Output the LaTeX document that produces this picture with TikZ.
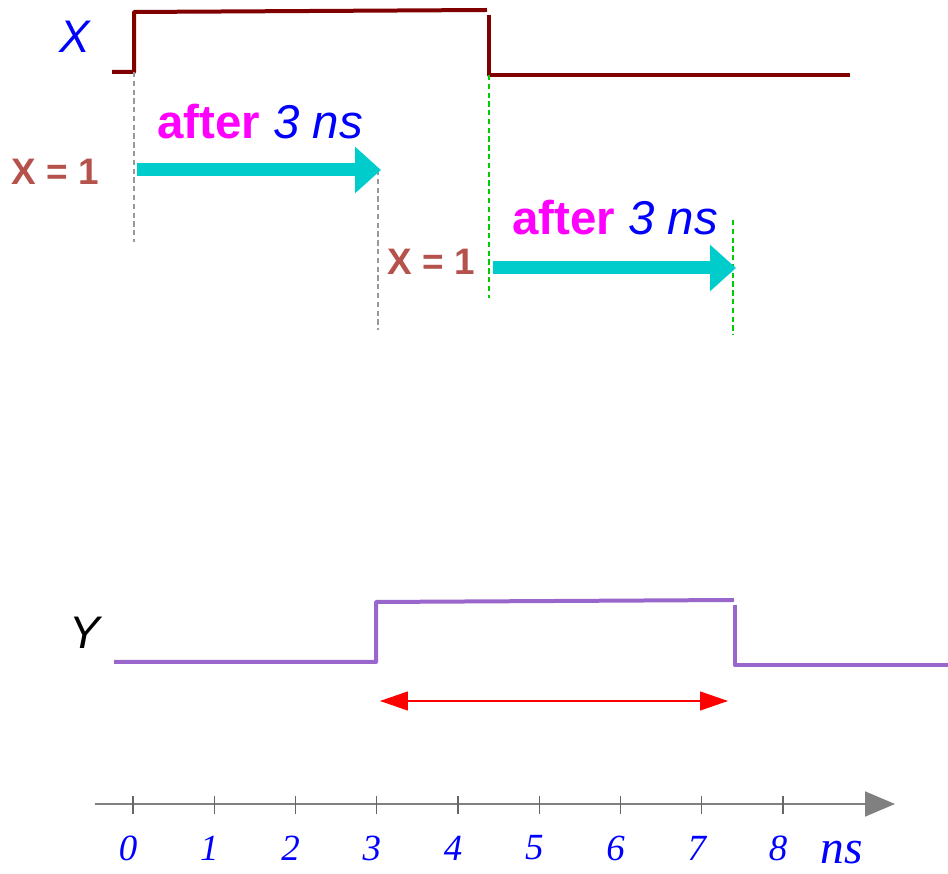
\documentclass[tikz,border=0pt]{standalone}
\usepackage{fontspec}
\setmainfont{Liberation Sans}
\newfontfamily\axisfont{Liberation Serif}
\usetikzlibrary{arrows.meta, positioning}

\definecolor{xwave}{RGB}{128,0,0}
\definecolor{ywave}{RGB}{153,102,204}
\definecolor{delayc}{RGB}{0,204,204}
\definecolor{eqc}{RGB}{181,82,76}
\definecolor{afterc}{RGB}{255,0,255}

\begin{document}
\begin{tikzpicture}[
    x=0.02cm, y=-0.02cm,
    xsignal/.style={draw=xwave, line width=0.08cm, line join=round},
    ysignal/.style={draw=ywave, line width=0.08cm, line join=round},
    guide/.style={densely dashed, line width=0.6pt, draw=gray!80},
    guidegreen/.style={densely dashed, line width=0.6pt, draw=green!80!black},
    delay/.style={draw=delayc, line width=0.26cm, -{Triangle[length=0.52cm, width=0.9cm]}},
    span/.style={draw=red, line width=0.6pt, {Triangle[length=0.56cm, width=0.38cm]}-{Triangle[length=0.56cm, width=0.38cm]}},
    axisline/.style={draw=gray, line width=1pt, -{Triangle[length=0.6cm, width=0.5cm]}},
    tickmark/.style={draw=gray!80!black, line width=0.6pt},
    sig_label/.style={font=\fontsize{26}{28}\selectfont\itshape},
    eq_label/.style={font=\fontsize{21}{23}\selectfont\bfseries, text=eqc},
    after_label/.style={font=\fontsize{27}{29}\selectfont},
    tick_label/.style={font=\fontsize{21}{23}\selectfont\axisfont\itshape, text=blue}
]
    \useasboundingbox (0,0) rectangle (948,874);

    % --- X WAVEFORM ---
    \coordinate (x0) at (112,72);
    \coordinate (xup) at (134,72);
    \coordinate (xtop) at (134,12);
    \coordinate (xtopend) at (487,10);
    \coordinate (xfall) at (489,15);
    \coordinate (xlow) at (489,75);
    \coordinate (xend) at (850,75);
    \draw[xsignal] (x0) -- (xup) -- (xtop) -- (xtopend);
    \draw[xsignal] (xfall) -- (xlow) -- (xend);
    \node[sig_label, text=blue] (xname) at (75,37) {X};

    % --- Guides ---
    \coordinate (g1b) at (134,242);
    \coordinate (g2a) at (378,170);
    \coordinate (g2b) at (378,330);
    \coordinate (g3b) at (489,298);
    \coordinate (g4a) at (733,220);
    \coordinate (g4b) at (733,335);
    \draw[guide] (xup) -- (g1b);
    \draw[guide] (g2a) -- (g2b);
    \draw[guidegreen] (xlow) -- (g3b);
    \draw[guidegreen] (g4a) -- (g4b);

    % --- Delays ---
    \coordinate (d1a) at (137,170);
    \coordinate (d1b) at (381,170);
    \coordinate (d2a) at (493,268);
    \coordinate (d2b) at (736,268);
    \draw[delay] (d1a) -- (d1b);
    \draw[delay] (d2a) -- (d2b);

    \node[eq_label] (eq1) at (55,172) {X = 1};
    \node[eq_label] (eq2) at (431,262) {X = 1};
    \node[after_label] (after1) at (260,122) {\textcolor{afterc}{\bfseries after} \textcolor{blue}{\itshape 3 ns}};
    \node[after_label] (after2) at (615,218) {\textcolor{afterc}{\bfseries after} \textcolor{blue}{\itshape 3 ns}};

    % --- Y WAVEFORM ---
    \coordinate (y0) at (114,662);
    \coordinate (yup) at (376,662);
    \coordinate (ytop) at (376,602);
    \coordinate (ytopend) at (734,600);
    \coordinate (yfall) at (735,605);
    \coordinate (ylow) at (735,665);
    \coordinate (yend) at (948,665);
    \draw[ysignal] (y0) -- (yup) -- (ytop) -- (ytopend);
    \draw[ysignal] (yfall) -- (ylow) -- (yend);
    \node[sig_label] (yname) at (85,633) {Y};

    \coordinate (s1) at (380,701);
    \coordinate (s2) at (728,701);
    \draw[span] (s1) -- (s2);

    % --- TIME AXIS ---
    \coordinate (a0) at (95,804);
    \coordinate (a1) at (895,804);
    \draw[axisline] (a0) -- (a1);
    \foreach \t in {0,...,8} {
        \draw[tickmark] (133+81.25*\t,796) -- (133+81.25*\t,814);
        \node[tick_label] (t\t) at (128+81.25*\t,848) {\t};
    }
    \node[tick_label, font=\fontsize{27}{29}\selectfont\axisfont\itshape] (unit) at (842,853) {ns};

\end{tikzpicture}
\end{document}
